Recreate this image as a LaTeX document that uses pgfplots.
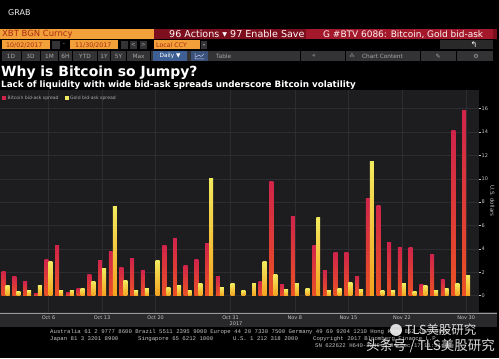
\documentclass[border=0pt]{standalone}
\usepackage{pgfplots}
\pgfplotsset{compat=1.18}
\usepackage{fontspec}
\setmainfont{DejaVu Sans}
\newfontfamily\cjk{Noto Sans CJK SC}
\newfontfamily\mono{Liberation Mono}
\definecolor{bbbg}{HTML}{1D1C1F}
\definecolor{band}{HTML}{29292B}
\definecolor{gridc}{HTML}{2D2C30}
\definecolor{bbor}{HTML}{F2A03A}
\definecolor{bbtr}{HTML}{A82A12}
\definecolor{bbred}{HTML}{7C0E1E}
\definecolor{bbred2}{HTML}{A3182B}
\definecolor{btn}{HTML}{333335}
\definecolor{btntxt}{HTML}{A8A8A8}
\definecolor{bblue}{HTML}{3D5F93}
\definecolor{redtop}{HTML}{D0244A}
\definecolor{redbot}{HTML}{EA5224}
\definecolor{yeltop}{HTML}{F2EA5E}
\definecolor{yelbot}{HTML}{F4A21E}
\definecolor{txtg}{HTML}{C4C4C4}
\newcommand{\fs}[1]{\fontsize{#1}{#1}\selectfont}
\pgfplotsset{
  redbar/.style={ybar, bar width=0.37, bar shift=-0.187, draw=none, top color=redtop, middle color=redtop!90!redbot, bottom color=redbot, forget plot},
  yelbar/.style={ybar, bar width=0.37, bar shift=0.187, draw=none, top color=yeltop, middle color=yeltop!85!yelbot, bottom color=yelbot, forget plot},
}
\begin{document}
\begin{tikzpicture}[x=1bp,y=1bp]
\fill[black] (0,0) rectangle (499,358);
\path[use as bounding box] (0,0) rectangle (499,358);
\begin{scope}[yshift=358bp,yscale=-1]
% header
\node[anchor=west,inner sep=0,text=white!88!gray] at (8,12.5) {\fs{8}GRAB};
\fill[bbor] (0,29) rectangle (154,39.5);
\fill[bbred] (154,29) rectangle (497,39.5);
\fill[bbred2] (306,29.5) rectangle (493,39.5);
\node[anchor=west,inner sep=0,text=bbtr] at (2,34.5) {\fs{8.5}XBT BGN Curncy};
\node[anchor=west,inner sep=0,text=white!85!pink] at (169,34.3) {\fs{9.6}96 Actions ▾ 97 Enable Save};
\node[anchor=west,inner sep=0,text=white!85!pink] at (323,34.3) {\fs{9}G \#BTV 6086: Bitcoin, Gold bid-ask};
% row 2
\fill[bbor] (2,40.5) rectangle (50,49.5);
\node[anchor=west,inner sep=0,text=bbtr] at (6,45.2) {\fs{6.3}10/02/2017};
\fill[btn] (52,41) rectangle (60,49);
\node[inner sep=0,text=btntxt] at (64,45) {\fs{6}-};
\fill[bbor] (70,40.5) rectangle (118,49.5);
\node[anchor=west,inner sep=0,text=bbtr] at (75,45.2) {\fs{6.3}11/30/2017};
\fill[btn] (121,41) rectangle (128,49);
\fill[btn] (130,41) rectangle (137,49);
\fill[btn] (140,41) rectangle (147,49);
\node[inner sep=0,text=btntxt] at (133.5,45) {\fs{5.5}<};
\node[inner sep=0,text=btntxt] at (143.5,45) {\fs{5.5}>};
\fill[bbor] (154,40.5) rectangle (200,49.5);
\node[anchor=west,inner sep=0,text=bbtr] at (156,45.2) {\fs{6.3}Local CCY};
\fill[btn] (201,41) rectangle (207,49);
\node[inner sep=0,text=btntxt] at (204,45) {\fs{4}▾};
\fill[btn!80!black] (440,40.5) rectangle (493,49.5);
\node[inner sep=0,text=white] at (474,44.5) {\fs{8}↰};
% row 3
\fill[btn] (2,51) rectangle (493,61);
\foreach \xs in {21,40,58.5,72.5,97.5,110.5,126.5,150,300,345,420,456}{\draw[black,line width=1] (\xs,51) -- (\xs,61);}
\foreach \lab/\xc in {1D/11,3D/30.5,1M/49.5,6H/65.5,YTD/85,1Y/104,5Y/118.5,Max/138.5}{\node[inner sep=0,text=btntxt] at (\xc,56.2) {\fs{5.8}\lab};}
\fill[bblue] (153,51) rectangle (187,61);
\node[inner sep=0,text=white] at (170,56.2) {\fs{5.8}Daily ▼};
\fill[bblue!70!btn] (191,51) rectangle (208,61);
\draw[white!80!blue,line width=0.5] (195,59) -- (195,53) (195,59)--(204,59) (196,57)--(199,55)--(201,56.5)--(204,54);
\node[anchor=west,inner sep=0,text=btntxt] at (216,56.2) {\fs{5.8}Table};
\node[inner sep=0,text=btntxt] at (314,56) {\fs{6}«};
\node[inner sep=0,text=btntxt] at (352,56) {\fs{5}⁂};
\node[anchor=west,inner sep=0,text=btntxt] at (362,56.2) {\fs{5.8}Chart Content};
\node[inner sep=0,text=btntxt] at (438,56) {\fs{6}✎};
\node[inner sep=0,text=btntxt] at (476,56) {\fs{6}⚙};
% titles
\node[anchor=west,inner sep=0,text=white] at (1,73) {\fs{14}\bfseries Why is Bitcoin so Jumpy?};
\node[anchor=west,inner sep=0,text=white] at (1,85) {\fs{8.8}\bfseries Lack of liquidity with wide bid-ask spreads underscore Bitcoin volatility};
% date band
\fill[band] (0,312) rectangle (497,327);
\draw[gray!80,line width=0.5] (0,313) -- (497,313);
\node[rotate=-90,inner sep=0,text=txtg] at (492.5,201) {\fs{5.5}U.S. dollars};
\node[inner sep=0,text=txtg] at (236,323.5) {\fs{5}2017};
% footer
\node[anchor=west,inner sep=0,text=txtg] at (50,332) {\mono\fs{5.7}Australia 61 2 9777 8600 Brazil 5511 2395 9000 Europe 44 20 7330 7500 Germany 49 69 9204 1210 Hong Kong 852 2977 6000};
\node[anchor=west,inner sep=0,text=txtg] at (50,339) {\mono\fs{5.7}Japan 81 3 3201 8900};
\node[anchor=west,inner sep=0,text=txtg] at (138,339) {\mono\fs{5.7}Singapore 65 6212 1000};
\node[anchor=west,inner sep=0,text=txtg] at (233,339) {\mono\fs{5.7}U.S. 1 212 318 2000};
\node[anchor=west,inner sep=0,text=txtg] at (313,339) {\mono\fs{5.7}Copyright 2017 Bloomberg Finance L.P.};
\node[anchor=west,inner sep=0,text=txtg] at (315,345.5) {\mono\fs{5.7}SN 622622 H640-3249-0 04-Dec-17 11:51:40};
\end{scope}
\begin{axis}[
  at={(0bp,46bp)}, anchor=south west,
  scale only axis, width=479bp, height=222bp,
  xmin=0.47, xmax=45.2, ymin=-1.4, ymax=17.6,
  axis background/.style={fill=bbbg},
  axis x line*=bottom, axis y line*=right,
  axis line style={draw=none},
  xtick={5,10,15,22,28,33,38,44},
  xticklabels={Oct 6,Oct 13,Oct 20,Oct 31,Nov 8,Nov 15,Nov 22,Nov 30},
  xticklabel style={font=\fs{5}, text=txtg, yshift=1.2bp},
  ytick={0,2,...,16},
  yticklabel style={font=\fs{5}, text=txtg, inner sep=1bp},
  /pgf/number format/assume math mode=true,
  tick align=outside, major tick length=1.5bp,
  xtick style={draw=none},
  ytick style={color=txtg, line width=0.6pt},
  grid=major, grid style={color=gridc, line width=0.5pt},
  legend style={at={(0.004,0.985)}, anchor=north west, draw=none, fill=none,
    font=\fs{4.6}, text=btntxt, legend columns=2,
    /tikz/every even column/.append style={column sep=4bp},
    inner sep=0pt, row sep=0pt},
]
% Bitcoin bid-ask spread (one bar per trading day, so each bar gets its own gradient)
\foreach \xx/\yy in {1/2.1,2/1.6,3/1.17,4/0.2,5/3.1,6/4.25,7/0.26,8/0.6,9/1.8,10/3.05,
  11/3.76,12/2.45,13/3.16,14/2.14,16/4.33,17/4.9,18/2.62,19/3.08,20/4.5,
  21/1.62,25/1.2,26/9.8,27/0.97,28/6.8,30/4.27,31/2.17,32/3.67,33/3.73,
  34/1.68,35/8.3,36/7.7,37/4.53,38/4.16,39/4.16,40/0.97,41/3.48,42/1.34,
  43/14.1,44/15.87}{
  \edef\tmp{\noexpand\addplot[redbar] coordinates {(\xx,\yy)};}\tmp
}
% Gold bid-ask spread
\foreach \xx/\yy in {1/0.83,2/0.34,3/0.43,4/0.83,5/2.9,6/0.48,7/0.48,8/0.6,9/1.25,10/2.34,
  11/7.64,12/1.28,13/0.43,14/0.57,15/3.02,16/0.71,17/0.83,18/0.48,19/1.05,20/10.06,
  21/0.68,22/1.03,23/0.46,24/1.08,25/2.93,26/1.82,27/0.54,28/1.08,29/0.6,30/6.72,
  31/0.48,32/0.57,33/1.11,34/0.54,35/11.45,36/0.4,37/0.4,38/1.0,39/0.37,40/0.91,
  41/0.48,42/0.6,43/1.0,44/1.74}{
  \edef\tmp{\noexpand\addplot[yelbar] coordinates {(\xx,\yy)};}\tmp
}
\addlegendimage{legend image code/.code={\fill[redtop] (0bp,-1.6bp) rectangle (3.2bp,1.6bp);}}
\addlegendentry{Bitcoin bid-ask spread}
\addlegendimage{legend image code/.code={\fill[yeltop] (0bp,-1.6bp) rectangle (3.2bp,1.6bp);}}
\addlegendentry{Gold bid-ask spread}
\end{axis}
\begin{scope}[yshift=358bp,yscale=-1]
% watermark
\fill[white,opacity=0.85] (396,330) circle (6);
\node[anchor=west,inner sep=0,text=white,opacity=0.85] at (405,330) {\cjk\fs{12.5}TLS美股研究};
\node[anchor=west,inner sep=0,text=white,opacity=0.85] at (366,346) {\cjk\fs{13.5}头条号 / TLS美股研究};
\end{scope}
\end{tikzpicture}
\end{document}
